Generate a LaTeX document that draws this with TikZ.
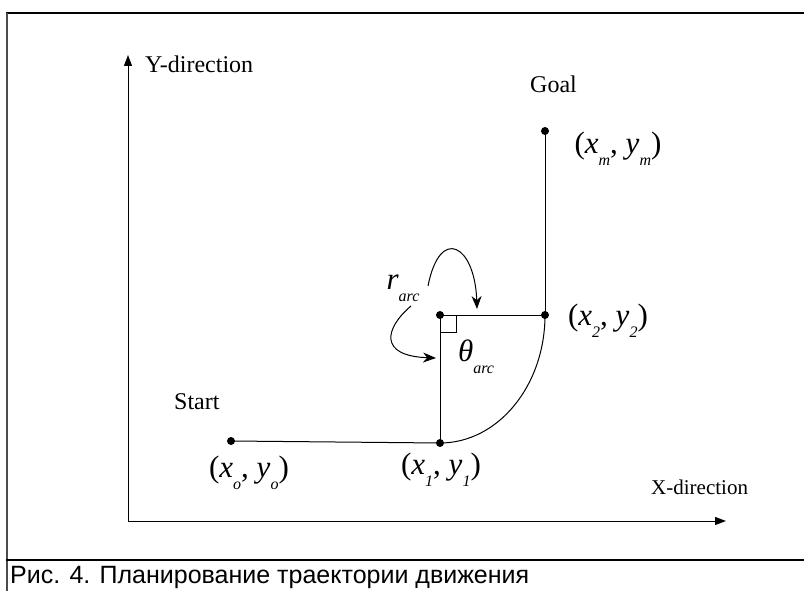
\documentclass[tikz,border=0pt]{standalone}
\usepackage{fontspec}
\setmainfont{Liberation Serif}
\newfontfamily\capfont{Liberation Sans}
\usetikzlibrary{arrows.meta}
\tikzset{
  lbl/.style={font=\fontsize{24}{28}\selectfont, inner sep=0pt},
  mlbl/.style={font=\fontsize{31}{34}\selectfont, inner sep=0pt},
  axis/.style={line width=1pt, -{Triangle[length=11pt,width=8pt]}},
  path/.style={line width=1pt},
  dot/.style={circle, fill=black, inner sep=0pt, minimum size=8pt},
  curvearrow/.style={line width=1pt, -{Stealth[length=13pt,width=10pt]}}
}
\newcommand{\sbs}[1]{\raisebox{-0.4em}{\fontsize{16}{17}\selectfont\itshape #1}}
\begin{document}
\begin{tikzpicture}[x=1pt,y=-1pt]
\useasboundingbox (0,0) rectangle (804,591);
% frame
\draw[line width=2pt] (6,13) -- (804,13);
\draw[line width=1.6pt, black!70] (7,13) -- (7,591);
\draw[line width=2.5pt] (6,560) -- (804,560);
% axes
\coordinate (O) at (128,521);
\coordinate (Ytip) at (128,55);
\coordinate (Xtip) at (726,521);
\draw[axis] (O) -- (Ytip);
\draw[axis] (O) -- (Xtip);
\node[lbl, anchor=west] (ylab) at (145,64) {Y-direction};
\node[lbl, anchor=west, font=\fontsize{21}{24}\selectfont] (xlab) at (651,487) {X-direction};
% points
\node[dot] (p0) at (231,441) {};
\node[dot] (p1) at (440,443) {};
\node[dot] (c) at (440,315) {};
\node[dot] (p2) at (545,315) {};
\node[dot] (pm) at (545,131) {};
\draw[path] (p0.center) -- (p1.center);
\draw[path] (p1.center) -- (c.center) -- (p2.center) -- (pm.center);
\draw[path] (p1.center) arc[start angle=-90, end angle=0, x radius=105, y radius=-128];
% right angle mark
\draw[line width=0.9pt] (440,332) -- (456,332) -- (456,315);
% texts
\node[lbl, anchor=west] (start) at (174,402) {Start};
\node[lbl, anchor=west] (goal) at (530,84) {Goal};
\node[mlbl] (l0) at (249,473) {(\textit{x}\sbs{o}, \textit{y}\sbs{o})};
\node[mlbl] (l1) at (441,470) {(\textit{x}\sbs{1}, \textit{y}\sbs{1})};
\node[mlbl] (l2) at (608,321) {(\textit{x}\sbs{2}, \textit{y}\sbs{2})};
\node[mlbl] (lm) at (618,149) {(\textit{x}\sbs{m}, \textit{y}\sbs{m})};
\node[mlbl] (theta) at (476,357) {\textit{θ}\sbs{arc}};
\node[mlbl] (rarc) at (403,288) {\textit{r}\sbs{arc}};
% curved arrows
\coordinate (a1s) at (428,286);
\coordinate (a1e) at (477,309);
\draw[curvearrow] (a1s) .. controls (440,225) and (475,245) .. (a1e);
\coordinate (a2s) at (411,306);
\coordinate (a2e) at (436,358);
\draw[curvearrow] (a2s) .. controls (385,328) and (378,356) .. (a2e);
% caption
\node[anchor=west, inner sep=0pt, font=\capfont\fontsize{25}{28}\selectfont] (cap) at (10,577) {Рис. 4. Планирование траектории движения};
\end{tikzpicture}
\end{document}
